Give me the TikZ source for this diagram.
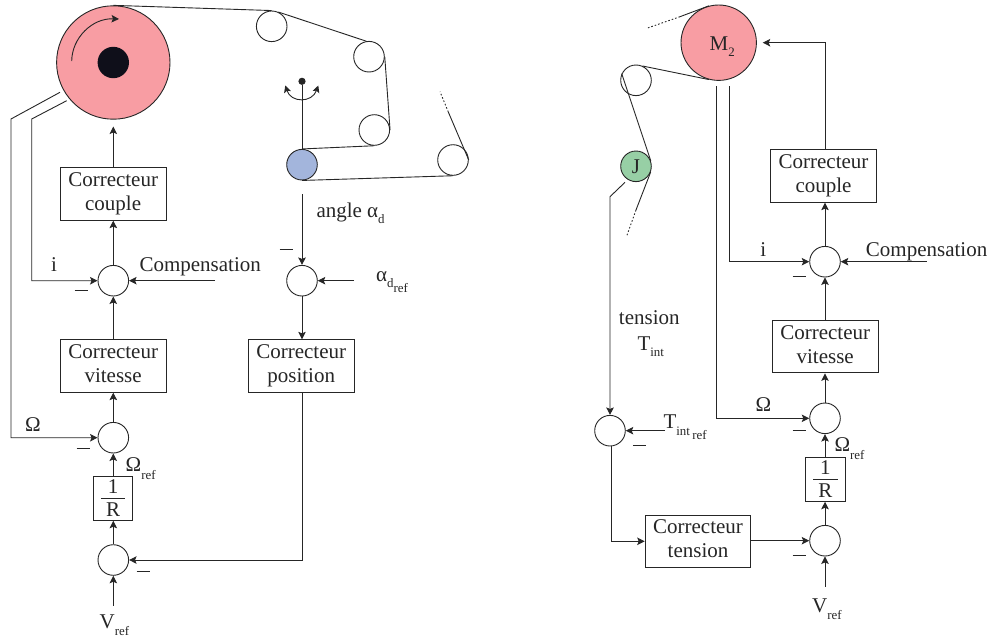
\documentclass[tikz,border=0pt]{standalone}
\usepackage{fontspec}
\setmainfont{Liberation Serif}
\usetikzlibrary{arrows.meta,calc}
\definecolor{ink}{HTML}{262626}
\definecolor{pinkdisc}{HTML}{F89DA3}
\definecolor{bluedisc}{HTML}{A3B5DC}
\definecolor{greendisc}{HTML}{97CFA5}
\definecolor{hubdark}{HTML}{0F0F1A}
\newcommand\sbs[2]{\raisebox{#1}{\fontsize{12.9}{14}\selectfont #2}}
\newcommand\boxtxt[2]{\rule[-5pt]{0pt}{15pt}#1\\\rule[-5pt]{0pt}{15pt}#2}
\tikzset{
  x=1pt,y=-1pt,
  every node/.style={text=ink,font=\fontsize{21}{24}\selectfont,inner sep=0pt},
  ln/.style={draw=ink,line width=0.9pt},
  arr/.style={ln,-{Stealth[length=7.5pt,width=7.5pt,inset=1.5pt]}},
  arrb/.style={ln,{Stealth[length=7pt,width=7pt,inset=1.5pt]}-{Stealth[length=7pt,width=7pt,inset=1.5pt]}},
  web/.style={draw=ink,line width=0.9pt},
  dots/.style={draw=ink,line width=0.9pt,dash pattern=on 1.6pt off 2pt},
  sum/.style={circle,draw=ink,line width=0.9pt,minimum size=30.6pt,fill=white},
  roller/.style={circle,draw=ink,line width=0.9pt,minimum size=30.6pt,fill=white},
  ctl/.style={draw=ink,line width=0.9pt,minimum width=105.7pt,minimum height=52.4pt,align=center,fill=white},
  frac/.style={draw=ink,line width=0.9pt,minimum width=39.5pt,minimum height=43.6pt,align=center,font=\fontsize{21}{23}\selectfont},
  lbl/.style={anchor=base},
  lblw/.style={anchor=base west},
  minus/.style={draw=ink,line width=0.9pt},
}
\begin{document}
\begin{tikzpicture}
\useasboundingbox (0,0) rectangle (990,637);
%% ---- left: machine
\node[circle,draw=ink,line width=0.9pt,fill=pinkdisc,minimum size=113.4pt] (disc) at (113.3,62.5) {};
\node[circle,fill=hubdark,minimum size=31.4pt] (hub) at (113.3,62.5) {};
\node[roller] (r1) at (271.7,26.3) {};
\node[roller] (r2) at (369,56.7) {};
\node[roller] (r3) at (374.3,130) {};
\node[roller,fill=bluedisc] (dancer) at (302,164.7) {};
\node[roller] (r5) at (453,160) {};
\node[circle,fill=ink,minimum size=7.2pt] (pivot) at (302,81.3) {};
\coordinate (webA) at (448.3,112);
\coordinate (webB) at (440,91.7);
\draw[web] (disc.90) -- (r1.90);
\draw[web] (r1.65) -- (r2.100);
\draw[web] (r2.0) -- (r3.0);
\draw[web] (r3.270) -- (dancer.90);
\draw[web] (dancer.270) -- (r5.270);
\draw[web] (r5.0) -- (webA);
\draw[dots] (webA) -- (webB);
\draw[ln] (pivot) -- (dancer.90);
\coordinate (rotA) at (71.7,61);
\coordinate (rotB) at (119,19);
\draw[arr] (rotA) .. controls (72,38) and (92,18) .. (rotB);
\coordinate (swA) at (285.3,85.5);
\coordinate (swB) at (318.3,85.5);
\draw[arrb] (swA) .. controls (291,103) and (312,103) .. (swB);
%% ---- left: control
\node[ctl] (cc1) at (113.15,194) {\boxtxt{Correcteur}{couple}};
\node[ctl] (cv1) at (113.15,366) {\boxtxt{Correcteur}{vitesse}};
\node[ctl] (cp1) at (301.2,366) {\boxtxt{Correcteur}{position}};
\node[frac] (fr1) at (113.15,498.5) {1\\R};
\draw[ln] ($(fr1.center)+(-12.3,0)$) -- ($(fr1.center)+(12.3,0)$);
\node[sum] (s1) at (113.3,280.7) {};
\node[sum] (s2) at (113.3,437.7) {};
\node[sum] (s3) at (113.3,560) {};
\node[sum] (s4) at (302,280.7) {};
\coordinate (dt1) at (113.3,126.5);
\draw[arr] (s1 |- cc1.north) -- (dt1);
\draw[arr] (s1.north) -- (s1 |- cc1.south);
\draw[arr] (s2.north |- cv1.north) -- (s1.south);
\draw[arr] (s2.north) -- (s2 |- cv1.south);
\draw[arr] (s2 |- fr1.north) -- (s2.south);
\draw[arr] (s3.north) -- (s3 |- fr1.south);
\coordinate (vr1) at (113.3,605.7);
\draw[arr] (vr1) -- (s3.south);
\coordinate (comp1) at (215,280.7);
\draw[arr] (comp1) -- (s1.east);
\coordinate (iA) at (66.7,100.7);
\coordinate (iB) at (31.7,119);
\draw[arr] (iA) -- (iB) |- (s1.west);
\coordinate (wA) at (60,92.3);
\coordinate (wB) at (11,119);
\draw[arr] (wA) -- (wB) |- (s2.west);
\coordinate (angl) at (302,194.3);
\draw[arr] (angl) -- (s4.north);
\coordinate (aref) at (354,280.7);
\draw[arr] (aref) -- (s4.east);
\draw[arr] (s4.south) -- (s4 |- cp1.north);
\draw[arr] (s4 |- cp1.south) |- (s3.east);
%% labels left
\node[lbl] (tI1) at (54,271.7) {i};
\node[lblw] (tC1) at (139.3,271.7) {Compensation};
\node[lblw] (tAng) at (316.3,217.3) {angle α\sbs{-6pt}{d}};
\node[lblw] (tAr) at (376,281.7) {α\sbs{-5.6pt}{d}\sbs{-11pt}{ref}};
\node[lbl] (tO1) at (33,431.7) {Ω};
\node[lblw] (tOr1) at (125.5,471.7) {Ω\sbs{-7.6pt}{ref}};
\node[lblw] (tV1) at (99.5,628) {V\sbs{-7pt}{ref}};
\coordinate (m1a) at (74.5,290.7); \coordinate (m1b) at (87.5,290.7);
\draw[minus] (m1a) -- (m1b);
\coordinate (m2a) at (76.7,448.7); \coordinate (m2b) at (89.7,448.7);
\draw[minus] (m2a) -- (m2b);
\coordinate (m3a) at (136.7,571.7); \coordinate (m3b) at (149.7,571.7);
\draw[minus] (m3a) -- (m3b);
\coordinate (m4a) at (279.7,249); \coordinate (m4b) at (292.7,249);
\draw[minus] (m4a) -- (m4b);
%% ---- right: machine
\node[circle,draw=ink,line width=0.9pt,fill=pinkdisc,minimum size=75.4pt] (m2) at (718.7,42.7) {};
\node[roller] (r6) at (636,80.3) {};
\node[roller,fill=greendisc] (jr) at (636,166.3) {};
\node[lbl] (tJ) at (636,173.5) {J};
\node[lblw] (tM) at (709.5,50.5) {M\sbs{-6pt}{2}};
\coordinate (wbA) at (680,16.7);
\coordinate (wbB) at (646.7,28.3);
\coordinate (wbC) at (636,210);
\coordinate (wbD) at (626.7,236);
\draw[web] (m2.105) -- (wbA);
\draw[dots] (wbA) -- (wbB);
\draw[web] (m2.255) -- (r6.65);
\draw[web] (r6.155) -- (jr.20);
\draw[web] (jr.340) -- (wbC);
\draw[dots] (wbC) -- (wbD);
%% ---- right: control
\node[ctl] (cc2) at (823.5,176) {\boxtxt{Correcteur}{couple}};
\node[ctl] (cv2) at (825.2,346.7) {\boxtxt{Correcteur}{vitesse}};
\node[ctl] (ct2) at (698,541.3) {\boxtxt{Correcteur}{tension}};
\node[frac] (fr2) at (825.3,479.5) {1\\R};
\draw[ln] ($(fr2.center)+(-12.3,0)$) -- ($(fr2.center)+(12.3,0)$);
\node[sum] (s5) at (825,261.7) {};
\node[sum] (s6) at (825,418.3) {};
\node[sum] (s7) at (825,540.7) {};
\node[sum] (s8) at (610,430.7) {};
\coordinate (mArr) at (762.7,42.7);
\draw[arr] (s5 |- cc2.north) |- (mArr);
\draw[arr] (s5.north) -- (s5 |- cc2.south);
\draw[arr] (s6 |- cv2.north) -- (s5.south);
\draw[arr] (s6.north) -- (s6 |- cv2.south);
\draw[arr] (s6 |- fr2.north) -- (s6.south);
\draw[arr] (s7.north) -- (s7 |- fr2.south);
\coordinate (vr2) at (825,586.7);
\draw[arr] (vr2) -- (s7.south);
\coordinate (comp2) at (926.7,261.7);
\draw[arr] (comp2) -- (s5.east);
\coordinate (iC) at (729,86);
\draw[arr] (iC) |- (s5.west);
\coordinate (wC) at (716.7,86);
\draw[arr] (wC) |- (s6.west);
\draw[arr] (ct2.east |- s7) -- (s7.west);
\coordinate (tA) at (625,182.3);
\coordinate (tB) at (610,196.7);
\draw[arr] (tA) -- (tB) -- (s8.north);
\coordinate (tr) at (665,430.7);
\draw[arr] (tr) -- (s8.east);
\coordinate (sOut) at (611,446);
\draw[arr] (sOut) |- (ct2.west);
%% labels right
\node[lbl] (tI2) at (763.3,256.7) {i};
\node[lblw] (tC2) at (865.7,256.7) {Compensation};
\node[lbl] (tO2) at (763.3,411.7) {Ω};
\node[lblw] (tOr2) at (834.3,451.7) {Ω\sbs{-7.6pt}{ref}};
\node[lblw] (tV2) at (812,612) {V\sbs{-7pt}{ref}};
\node[lbl] (tTn) at (649.3,324) {tension};
\node[lblw] (tTi) at (637.3,350) {T\sbs{-6.7pt}{int}};
\node[lblw] (tTr) at (663.3,428.3) {T\sbs{-6.7pt}{int}\hspace{2.4pt}\sbs{-11pt}{ref}};
\coordinate (m5a) at (792.7,276.7); \coordinate (m5b) at (805.7,276.7);
\draw[minus] (m5a) -- (m5b);
\coordinate (m6a) at (792.7,430.3); \coordinate (m6b) at (805.7,430.3);
\draw[minus] (m6a) -- (m6b);
\coordinate (m7a) at (792.7,555.7); \coordinate (m7b) at (805.7,555.7);
\draw[minus] (m7a) -- (m7b);
\coordinate (m8a) at (632.8,445.7); \coordinate (m8b) at (645.8,445.7);
\draw[minus] (m8a) -- (m8b);
\end{tikzpicture}
\end{document}
